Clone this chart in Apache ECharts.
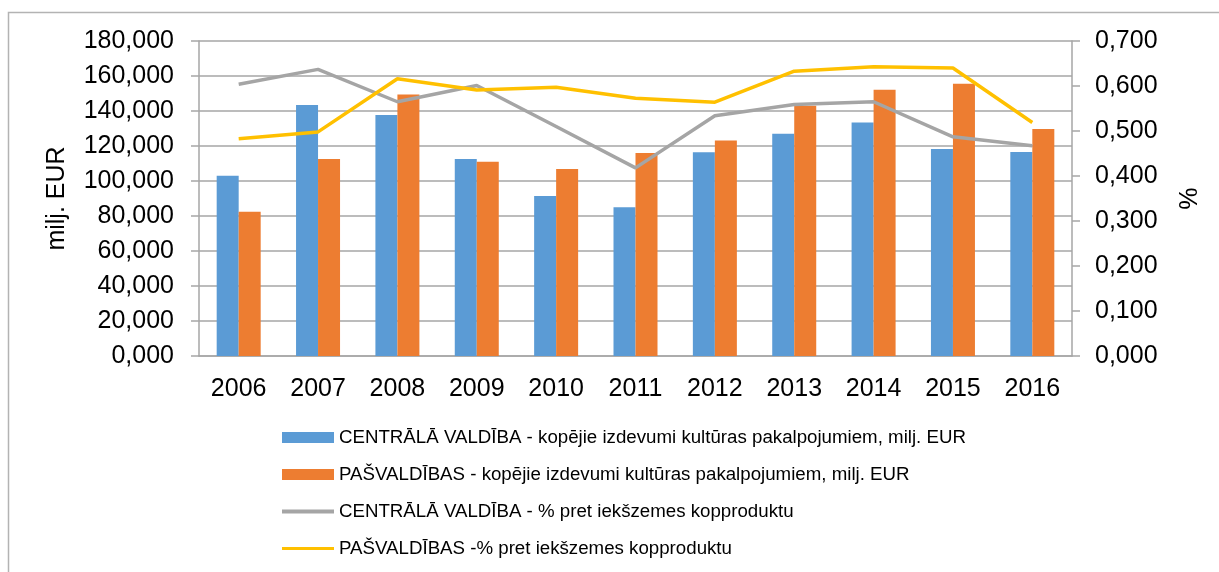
<!DOCTYPE html>
<html>
<head>
<meta charset="utf-8">
<script src="https://cdn.jsdelivr.net/npm/echarts@6/dist/echarts.min.js"></script>
<style>
  html, body { margin: 0; padding: 0; background: #fff; }
  #chart { width: 1219px; height: 572px; }
</style>
</head>
<body>
<div id="chart"></div>
<script>
const years = ['2006', '2007', '2008', '2009', '2010', '2011', '2012', '2013', '2014', '2015', '2016']

// milj. EUR
const centralSpend = [103.0, 143.4, 137.7, 112.6, 91.4, 85.0, 116.4, 127.0, 133.5, 118.3, 116.6]
const localSpend = [82.5, 112.6, 149.5, 111.0, 106.9, 116.0, 123.2, 143.0, 152.2, 155.6, 129.7]

// % pret IKP
const centralPct = [0.604, 0.637, 0.565, 0.601, 0.510, 0.418, 0.534, 0.559, 0.565, 0.487, 0.467]
const localPct = [0.483, 0.498, 0.616, 0.591, 0.597, 0.573, 0.564, 0.633, 0.643, 0.640, 0.519]

const names = [
  'CENTRĀLĀ VALDĪBA - kopējie izdevumi kultūras pakalpojumiem, milj. EUR',
  'PAŠVALDĪBAS - kopējie izdevumi kultūras pakalpojumiem, milj. EUR',
  'CENTRĀLĀ VALDĪBA - % pret iekšzemes kopproduktu',
  'PAŠVALDĪBAS -% pret iekšzemes kopproduktu'
]

const font = 'Liberation Sans, Arial, sans-serif'
const axisGray = '#a6a6a6'
const fmt = v => v.toFixed(3).replace('.', ',')

// thin band icons for the line series (zero-size subpaths keep the 52x11 box)
const thickLine = 'path://M0,0L0.01,0L0.01,0.01Z M0,3.5L52,3.5L52,7.5L0,7.5Z M51.99,11L52,11L52,10.99Z'
const thinLine = 'path://M0,0L0.01,0L0.01,0.01Z M0,4L52,4L52,7L0,7Z M51.99,11L52,11L52,10.99Z'

const chart = echarts.init(document.getElementById('chart'))

chart.setOption({
  animation: false,
  textStyle: { fontFamily: font, color: '#000' },
  graphic: [{
    type: 'rect',
    shape: { x: 8.5, y: 12.5, width: 1400, height: 800 },
    style: { fill: 'none', stroke: '#b3b3b3', lineWidth: 1.5 },
    silent: true
  }],
  grid: { left: 199, right: 147, top: 41, bottom: 216 },
  legend: {
    orient: 'vertical',
    left: 277,
    top: 423,
    itemGap: 18,
    itemWidth: 52,
    itemHeight: 11,
    textStyle: { fontFamily: font, fontSize: 18.7, color: '#000' },
    data: [
      { name: names[0], icon: 'rect' },
      { name: names[1], icon: 'rect' },
      { name: names[2], icon: thickLine },
      { name: names[3], icon: thinLine }
    ]
  },
  xAxis: {
    type: 'category',
    data: years,
    axisLine: { lineStyle: { color: axisGray, width: 1.5 } },
    axisTick: { length: 7, lineStyle: { color: axisGray, width: 1.5 } },
    axisLabel: { fontSize: 25, color: '#000', margin: 21 }
  },
  yAxis: [
    {
      type: 'value',
      min: 0, max: 180, interval: 20,
      name: 'milj. EUR',
      nameLocation: 'middle',
      nameRotate: 90,
      nameGap: 129,
      nameTextStyle: { fontSize: 25, color: '#000' },
      axisLine: { show: true, lineStyle: { color: axisGray, width: 1.5 } },
      axisTick: { show: true, length: 8, lineStyle: { color: axisGray, width: 1.5 } },
      splitLine: { lineStyle: { color: axisGray, width: 1.5 } },
      axisLabel: { fontSize: 25, color: '#000', margin: 25, formatter: fmt }
    },
    {
      type: 'value',
      min: 0, max: 0.7, interval: 0.1,
      name: '%',
      nameLocation: 'middle',
      nameRotate: -90,
      nameGap: 101,
      nameTextStyle: { fontSize: 25, color: '#000' },
      axisLine: { show: true, lineStyle: { color: axisGray, width: 1.5 } },
      axisTick: { show: true, length: 8, lineStyle: { color: axisGray, width: 1.5 } },
      splitLine: { show: false },
      axisLabel: { fontSize: 25, color: '#000', margin: 23, formatter: fmt }
    }
  ],
  series: [
    {
      name: names[0],
      type: 'bar',
      barWidth: 22,
      barGap: '0%',
      itemStyle: { color: '#5b9bd5' },
      data: centralSpend
    },
    {
      name: names[1],
      type: 'bar',
      barWidth: 22,
      itemStyle: { color: '#ed7d31' },
      data: localSpend
    },
    {
      name: names[2],
      type: 'line',
      yAxisIndex: 1,
      symbol: 'none',
      lineStyle: { color: '#a5a5a5', width: 3.5 },
      itemStyle: { color: '#a5a5a5' },
      z: 5,
      data: centralPct
    },
    {
      name: names[3],
      type: 'line',
      yAxisIndex: 1,
      symbol: 'none',
      lineStyle: { color: '#ffc000', width: 3.5 },
      itemStyle: { color: '#ffc000' },
      z: 5,
      data: localPct
    }
  ]
})
</script>
</body>
</html>
